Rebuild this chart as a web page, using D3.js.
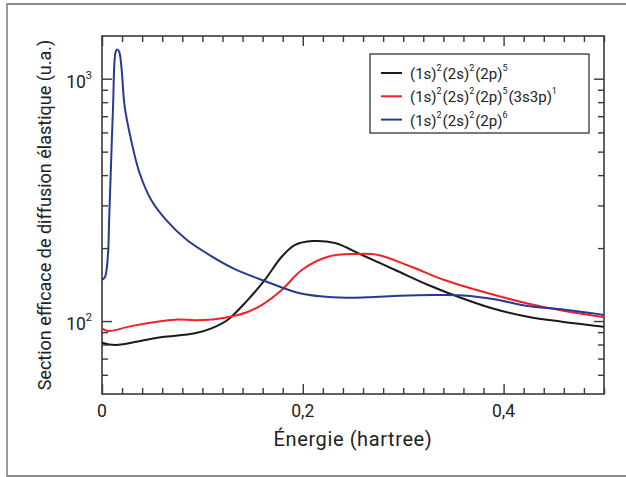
<!DOCTYPE html>
<html>
<head>
<meta charset="utf-8">
<script src="https://cdn.jsdelivr.net/npm/d3@7"></script>
<style>
  body { margin: 0; background: #fff; }
  text { font-family: Roboto, "Open Sans", sans-serif; fill: #222; }
</style>
</head>
<body>
<div class="chart-wrapper"></div>
<script>

// energie (hartree) / section efficace (u.a.)
const blackX = [0, 0.013, 0.043, 0.06, 0.0926, 0.109, 0.125, 0.145, 0.162, 0.179, 0.192, 0.21, 0.232, 0.259, 0.292, 0.325, 0.358, 0.391, 0.424, 0.458, 0.5]
const blackY = [81.4, 79.6, 83.5, 85.9, 89, 93.3, 101, 122, 147.6, 184.2, 205.9, 213.8, 209.8, 187.3, 162.4, 140.8, 124.5, 112.1, 104.2, 99.4, 94.8]

const redX = [0, 0.006, 0.03, 0.06, 0.075, 0.0926, 0.11, 0.125, 0.145, 0.159, 0.179, 0.199, 0.225, 0.252, 0.275, 0.308, 0.341, 0.391, 0.441, 0.5]
const redY = [93.3, 91, 95.5, 100, 101.5, 100.8, 101.5, 103.6, 109, 116.4, 134.3, 162.4, 184.2, 189, 187.3, 167.5, 147.6, 128, 113.9, 103.6]

const blueX = [0, 0.003, 0.006, 0.007, 0.0087, 0.011, 0.0136, 0.0152, 0.0172, 0.0186, 0.0199, 0.0226, 0.029, 0.0375, 0.049, 0.064, 0.084, 0.1055, 0.1307, 0.164, 0.197, 0.23, 0.2635, 0.2966, 0.33, 0.36, 0.391, 0.424, 0.4576, 0.5]
const blueY = [148, 152, 190, 254, 407, 766, 1291, 1321, 1291, 1194, 1052, 766, 558, 407, 316, 261, 217, 189, 165, 145.3, 130.2, 125.3, 125.3, 127.2, 128, 127.5, 123, 115.3, 111.8, 106]

const legendLabels = ['(1s)^2(2s)^2(2p)^5', '(1s)^2(2s)^2(2p)^5(3s3p)^1', '(1s)^2(2s)^2(2p)^6']
const colors = ['#1a1a1a', '#ee2229', '#263a94']

const xMajor = [0, 0.2, 0.4]
const xLabels = ['0', '0,2', '0,4']
const yMajor = [100, 1000]
const yExponents = ['2', '3']
const yMinor = [60, 70, 80, 90, 200, 300, 400, 500, 600, 700, 800, 900]

const width = 626
const height = 477
const margin = {left: 102, top: 36, right: 22, bottom: 83}

let svg = d3.select('.chart-wrapper').append('svg')
.attr('width', width)
.attr('height', height)

// cadre exterieur
svg.append('path')
.attr('d', `M${width},4 H7 V476 H${width}`)
.attr('fill', 'none')
.attr('stroke', '#666')
.attr('stroke-width', 1.3)

let xScale = d3.scaleLinear()
.domain([0, 0.5])
.range([margin.left, width - margin.right])

let yScale = d3.scaleLog()
.domain([50, 1500])
.range([height - margin.bottom, margin.top])

const x0 = xScale.range()[0], x1 = xScale.range()[1]
const y0 = yScale.range()[0], y1 = yScale.range()[1]

let axis = svg.append('g')
let lines = svg.append('g')
let legend = svg.append('g')

let xMinor = d3.range(0, 0.5001, 0.02).map(d => +d.toFixed(2)).filter(d => !xMajor.includes(d))

let drawAxis = (gen, tx, ty, values, size) => {
	axis.append('g')
	.attr('transform', `translate(${tx},${ty})`)
	.call(gen.tickValues(values).tickSize(size).tickFormat(''))
	.call(g => g.select('.domain').remove())
	.selectAll('line')
	.attr('stroke', '#3a3a3a')
	.attr('stroke-width', 1.4)
}

drawAxis(d3.axisBottom(xScale), 0, y0, xMajor, -10)
drawAxis(d3.axisBottom(xScale), 0, y0, xMinor, -6)
drawAxis(d3.axisTop(xScale), 0, y1, xMajor, -10)
drawAxis(d3.axisTop(xScale), 0, y1, xMinor, -6)
drawAxis(d3.axisLeft(yScale), x0, 0, yMajor, -10)
drawAxis(d3.axisLeft(yScale), x0, 0, yMinor, -6)
drawAxis(d3.axisRight(yScale), x1, 0, yMajor, -10)
drawAxis(d3.axisRight(yScale), x1, 0, yMinor, -6)

axis.append('rect')
.attr('x', x0)
.attr('y', y1)
.attr('width', x1 - x0)
.attr('height', y0 - y1)
.attr('fill', 'none')
.attr('stroke', '#3a3a3a')
.attr('stroke-width', 1.6)

// etiquettes
axis.selectAll('.xlab')
.data(xMajor)
.enter().append('text')
.attr('class', 'xlab')
.attr('x', d => xScale(d))
.attr('y', y0 + 23)
.attr('text-anchor', 'middle')
.style('font-size', '17.5px')
.text((d, i) => xLabels[i])

let ylab = axis.selectAll('.ylab')
.data(yMajor)
.enter().append('text')
.attr('class', 'ylab')
.attr('x', x0 - 10)
.attr('y', d => yScale(d) + 9)
.attr('text-anchor', 'end')
.style('font-size', '17.5px')

ylab.append('tspan').text('10')
ylab.append('tspan')
.attr('dy', -9)
.style('font-size', '11px')
.text((d, i) => yExponents[i])

axis.append('text')
.attr('x', (x0 + x1) / 2)
.attr('y', 446)
.attr('text-anchor', 'middle')
.style('font-size', '20px')
.style('letter-spacing', '0.6px')
.text('Énergie (hartree)')

axis.append('text')
.attr('transform', `translate(51,${(y0 + y1) / 2}) rotate(-90)`)
.attr('text-anchor', 'middle')
.style('font-size', '18px')
.text('Section efficace de diffusion élastique (u.a.)')

// courbes
const line = d3.line()
.curve(d3.curveCatmullRom.alpha(0.5))
.x(d => xScale(d[0]))
.y(d => yScale(d[1]))

const series = [
	d3.zip(blackX, blackY),
	d3.zip(redX, redY),
	d3.zip(blueX, blueY)
]

series.forEach((s, i) => {
	lines.append('path')
	.datum(s)
	.attr('fill', 'none')
	.attr('stroke', colors[i])
	.attr('stroke-width', 2)
	.attr('d', line)
})

// legende
legend.append('rect')
.attr('x', 370)
.attr('y', 54)
.attr('width', 219)
.attr('height', 79)
.attr('fill', '#fff')
.attr('stroke', '#333')
.attr('stroke-width', 1.3)

legendLabels.forEach((lab, i) => {
	let yy = 73 + i * 23.3
	legend.append('line')
	.attr('x1', 381)
	.attr('x2', 402)
	.attr('y1', yy)
	.attr('y2', yy)
	.attr('stroke', colors[i])
	.attr('stroke-width', 2)

	let t = legend.append('text')
	.attr('x', 410)
	.attr('y', yy + 6)
	.style('font-size', '15px')

	lab.split(/\^(\d+)/).forEach((part, k) => {
		if (part === '') return
		if (k % 2 === 1) {
			t.append('tspan').attr('dy', -8).style('font-size', '9px').text(part)
		} else {
			t.append('tspan').attr('dy', k > 0 ? 8 : 0).attr('dx', k > 0 ? 1 : 0).text(part)
		}
	})
})

</script>
</body>
</html>
